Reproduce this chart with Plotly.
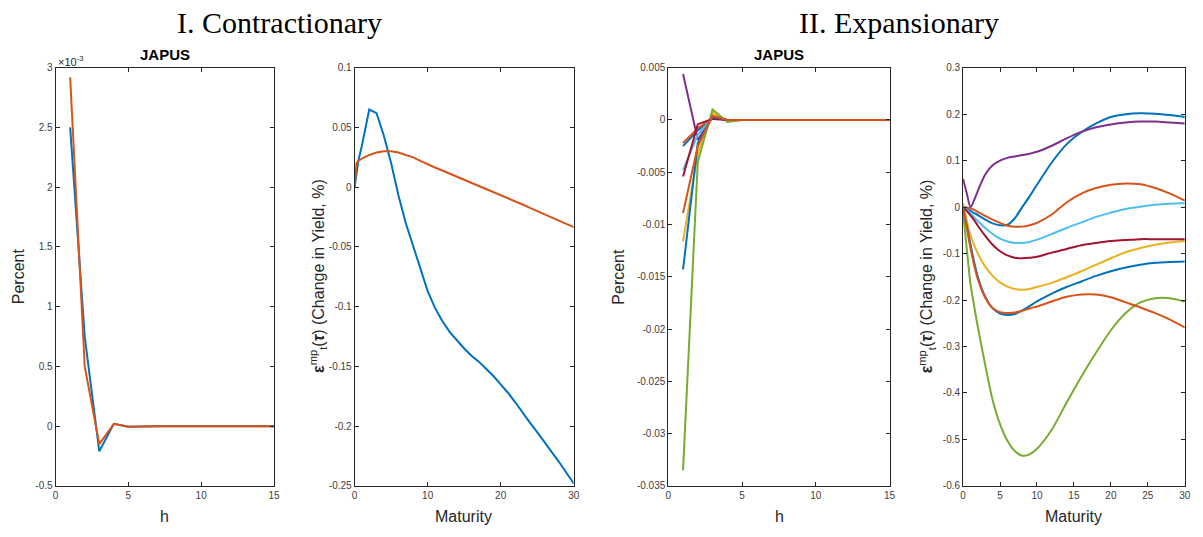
import plotly.graph_objects as go

# ---------------- data ----------------
h = [1, 2, 3, 4, 5, 6, 7, 8, 9, 10, 11, 12, 13, 14, 15]

# Panel I (contractionary) impulse responses
con_irf_blue = [2.50e-3, 0.75e-3, -0.21e-3, 0.02e-3, -0.005e-3, 0, 0, 0, 0, 0, 0, 0, 0, 0, 0]
con_irf_orange = [2.92e-3, 0.50e-3, -0.15e-3, 0.02e-3, -0.005e-3, 0, 0, 0, 0, 0, 0, 0, 0, 0, 0]

# Panel I yield-curve responses
mat_con = [0, 0.25, 0.5, 1, 2, 3, 4, 5, 6, 7, 8, 9, 10, 11, 12, 13, 14, 15, 16, 17, 18, 19, 20,
           21, 22, 23, 24, 25, 26, 27, 28, 29, 30]
con_yc_blue = [0, 0.012, 0.022, 0.035, 0.065, 0.062, 0.043, 0.020, -0.007, -0.030, -0.049, -0.068,
               -0.087, -0.101, -0.112, -0.121, -0.128, -0.135, -0.141, -0.146, -0.152, -0.158, -0.165,
               -0.172, -0.180, -0.189, -0.197, -0.205, -0.213, -0.222, -0.230, -0.239, -0.248]
con_yc_orange = [0, 0.020, 0.022, 0.024, 0.027, 0.029, 0.030, 0.030, 0.029, 0.027, 0.025, 0.022,
                 0.019, 0.0165, 0.014, 0.0113, 0.0087, 0.006, 0.0035, 0.001, -0.0015, -0.004, -0.0065,
                 -0.009, -0.0117, -0.0145, -0.0173, -0.020, -0.023, -0.0257, -0.0283, -0.031, -0.0334]

# Panel II (expansionary) impulse responses, 9 series
exp_irf = [
    [-0.0025, -0.0010, 0.0002, 0.0, 0, 0, 0, 0, 0, 0, 0, 0, 0, 0, 0],
    [-0.0022, -0.0008, 0.0002, 0.0, 0, 0, 0, 0, 0, 0, 0, 0, 0, 0, 0],
    [-0.0116, -0.0032, 0.0007, -0.0001, 0, 0, 0, 0, 0, 0, 0, 0, 0, 0, 0],
    [0.0044, -0.0019, 0.0003, 0.0, 0, 0, 0, 0, 0, 0, 0, 0, 0, 0, 0],
    [-0.0335, -0.0040, 0.0010, -0.0002, 0, 0, 0, 0, 0, 0, 0, 0, 0, 0, 0],
    [-0.0048, -0.0014, 0.0002, 0.0, 0, 0, 0, 0, 0, 0, 0, 0, 0, 0, 0],
    [-0.0054, -0.0004, 0.0001, 0.0, 0, 0, 0, 0, 0, 0, 0, 0, 0, 0, 0],
    [-0.0143, -0.0022, 0.0003, 0.0, 0, 0, 0, 0, 0, 0, 0, 0, 0, 0, 0],
    [-0.0089, -0.0025, 0.0004, 0.0, 0, 0, 0, 0, 0, 0, 0, 0, 0, 0, 0],
]

# Panel II yield-curve responses
mat_exp = [0, 0.5, 1, 1.5, 2, 3, 4, 5, 6, 7, 8, 9, 10, 12, 14, 16, 18, 20, 22, 24, 26, 28, 30]
exp_yc = [
    [0, -0.003, -0.008, -0.013, -0.017, -0.027, -0.035, -0.039, -0.038, -0.024, 0.000, 0.023, 0.048,
     0.096, 0.135, 0.161, 0.180, 0.194, 0.200, 0.202, 0.201, 0.198, 0.194],
    [0, -0.001, -0.003, -0.006, -0.010, -0.019, -0.027, -0.034, -0.040, -0.042, -0.042, -0.039, -0.034,
     -0.016, 0.010, 0.029, 0.041, 0.048, 0.051, 0.049, 0.041, 0.029, 0.014],
    [0.008, -0.030, -0.060, -0.082, -0.100, -0.128, -0.148, -0.162, -0.171, -0.176, -0.178, -0.176,
     -0.172, -0.163, -0.151, -0.138, -0.124, -0.110, -0.097, -0.088, -0.081, -0.076, -0.073],
    [0.061, 0.030, 0.0, 0.015, 0.035, 0.070, 0.090, 0.100, 0.106, 0.109, 0.112, 0.115, 0.119,
     0.132, 0.148, 0.162, 0.172, 0.178, 0.182, 0.184, 0.184, 0.182, 0.180],
    [-0.010, -0.090, -0.165, -0.213, -0.258, -0.340, -0.415, -0.467, -0.503, -0.525, -0.535, -0.532,
     -0.520, -0.479, -0.421, -0.365, -0.313, -0.265, -0.228, -0.205, -0.196, -0.196, -0.2035],
    [0.0, -0.005, -0.013, -0.022, -0.030, -0.045, -0.058, -0.068, -0.074, -0.077, -0.077, -0.075,
     -0.070, -0.058, -0.045, -0.033, -0.021, -0.012, -0.004, 0.001, 0.005, 0.007, 0.009],
    [0.0, -0.008, -0.018, -0.028, -0.040, -0.062, -0.081, -0.095, -0.104, -0.109, -0.110, -0.109,
     -0.107, -0.098, -0.090, -0.082, -0.077, -0.073, -0.071, -0.069, -0.069, -0.069, -0.069],
    [0.0, -0.040, -0.080, -0.118, -0.150, -0.193, -0.218, -0.229, -0.232, -0.230, -0.2225, -0.213,
     -0.203, -0.186, -0.172, -0.160, -0.148, -0.138, -0.130, -0.124, -0.120, -0.118, -0.117],
    [0.0, -0.045, -0.088, -0.125, -0.155, -0.195, -0.217, -0.226, -0.228, -0.227, -0.223, -0.218,
     -0.214, -0.203, -0.193, -0.188, -0.188, -0.194, -0.205, -0.216, -0.228, -0.242, -0.259],
]

colors = ["#0072BD", "#D95319", "#EDB120", "#7E2F8E", "#77AC30", "#4DBEEE", "#A2142F",
          "#0072BD", "#D95319"]

# tick definitions
p1_yticks = [-0.5e-3, 0, 0.5e-3, 1e-3, 1.5e-3, 2e-3, 2.5e-3, 3e-3]
p1_ylabels = ["-0.5", "0", "0.5", "1", "1.5", "2", "2.5", "3"]
p2_yticks = [-0.25, -0.2, -0.15, -0.1, -0.05, 0, 0.05, 0.1]
p2_ylabels = ["-0.25", "-0.2", "-0.15", "-0.1", "-0.05", "0", "0.05", "0.1"]
p3_yticks = [-0.035, -0.03, -0.025, -0.02, -0.015, -0.01, -0.005, 0, 0.005]
p3_ylabels = ["-0.035", "-0.03", "-0.025", "-0.02", "-0.015", "-0.01", "-0.005", "0", "0.005"]
p4_yticks = [-0.6, -0.5, -0.4, -0.3, -0.2, -0.1, 0, 0.1, 0.2, 0.3]
p4_ylabels = ["-0.6", "-0.5", "-0.4", "-0.3", "-0.2", "-0.1", "0", "0.1", "0.2", "0.3"]

# ---------------- figure ----------------
W, H = 1203, 537
def fx(x):
    return x / W
def fy(y):
    return 1 - y / H

fig = go.Figure()
LW = 2

fig.add_trace(go.Scatter(x=h, y=con_irf_blue, mode="lines", line=dict(color=colors[0], width=LW),
                         xaxis="x", yaxis="y", showlegend=False))
fig.add_trace(go.Scatter(x=h, y=con_irf_orange, mode="lines", line=dict(color=colors[1], width=LW),
                         xaxis="x", yaxis="y", showlegend=False))
fig.add_trace(go.Scatter(x=mat_con, y=con_yc_blue, mode="lines", line=dict(color=colors[0], width=LW),
                         xaxis="x2", yaxis="y2", showlegend=False))
fig.add_trace(go.Scatter(x=mat_con, y=con_yc_orange, mode="lines", line=dict(color=colors[1], width=LW),
                         xaxis="x2", yaxis="y2", showlegend=False))
for i, s in enumerate(exp_irf):
    fig.add_trace(go.Scatter(x=h, y=s, mode="lines", line=dict(color=colors[i], width=LW),
                             xaxis="x3", yaxis="y3", showlegend=False))
for i, s in enumerate(exp_yc):
    fig.add_trace(go.Scatter(x=mat_exp, y=s, mode="lines",
                             line=dict(color=colors[i], width=LW, shape="spline", smoothing=0.8),
                             xaxis="x4", yaxis="y4", showlegend=False))

AXC = "#262626"
TF = dict(family="Liberation Sans, Arial, sans-serif", size=10, color="#404040")

def ax(domain, rng, tickvals, ticktext, anchor):
    return dict(domain=domain, range=rng, tickvals=tickvals, ticktext=ticktext, anchor=anchor,
                showline=True, linecolor=AXC, linewidth=1, mirror="ticks", ticks="inside",
                ticklen=4, tickcolor=AXC, tickwidth=1, showgrid=False, zeroline=False,
                tickfont=TF, fixedrange=True)

ydom = [fy(491), fy(64)]
x1d = [fx(53), fx(273)]
x2d = [fx(354.3), fx(575)]
x3d = [fx(670.3), fx(893.3)]
x4d = [fx(967.3), fx(1190.7)]

fig.update_layout(
    autosize=True, margin=dict(l=0, r=0, t=0, b=0),
    paper_bgcolor="white", plot_bgcolor="white", showlegend=False,
    xaxis=ax(x1d, [0, 15], [0, 5, 10, 15], ["0", "5", "10", "15"], "y"),
    yaxis=ax(ydom, [-0.5e-3, 3e-3], p1_yticks, p1_ylabels, "x"),
    xaxis2=ax(x2d, [0, 30], [0, 10, 20, 30], ["0", "10", "20", "30"], "y2"),
    yaxis2=ax(ydom, [-0.25, 0.1], p2_yticks, p2_ylabels, "x2"),
    xaxis3=ax(x3d, [0, 15], [0, 5, 10, 15], ["0", "5", "10", "15"], "y3"),
    yaxis3=ax(ydom, [-0.035, 0.005], p3_yticks, p3_ylabels, "x3"),
    xaxis4=ax(x4d, [0, 30], [0, 5, 10, 15, 20, 25, 30], ["0", "5", "10", "15", "20", "25", "30"], "y4"),
    yaxis4=ax(ydom, [-0.6, 0.3], p4_yticks, p4_ylabels, "x4"),
)

LF = dict(family="Liberation Sans, Arial, sans-serif", size=16, color="#262626")
SERIF = dict(family="Liberation Serif, Times New Roman, serif", size=30, color="black")
BOLD = dict(family="Liberation Sans, Arial, sans-serif", size=15, color="black")

ann = []
def A(x, y, text, font, angle=0, xanchor="center", yanchor="middle"):
    ann.append(dict(x=fx(x), y=fy(y), xref="paper", yref="paper", text=text, showarrow=False,
                    font=font, textangle=angle, xanchor=xanchor, yanchor=yanchor))

A(279, 18, "I. Contractionary", SERIF)
A(903, 18, "II. Expansionary", SERIF)
A(163, 51, "<b>JAPUS</b>", BOLD)
A(782, 51, "<b>JAPUS</b>", BOLD)
A(53, 57, "×10<sup>-3</sup>", dict(family="Liberation Sans, Arial, sans-serif", size=11, color="#262626"),
  xanchor="left")
A(15, 277, "Percent", LF, angle=-90)
A(620, 277, "Percent", LF, angle=-90)
A(163, 522, "h", LF)
A(782, 522, "h", LF)
A(464, 522, "Maturity", LF)
A(1079, 522, "Maturity", LF)
ylab = "<b>ε</b><sup>mp</sup><sub>t</sub>(<b><i>τ</i></b>) (Change in Yield, %)"
A(318, 277, ylab, LF, angle=-90)
A(931, 277, ylab, LF, angle=-90)
fig.update_layout(annotations=ann)

# Fill the browser window exactly (no body margin, no scrollbars, no mode bar).
fig.write_html(
    "out.html",
    default_width="100vw",
    default_height="100vh",
    config={"responsive": True, "displayModeBar": False},
    post_script=("document.documentElement.style.margin='0';document.body.style.margin='0';"
                 "document.documentElement.style.overflow='hidden';document.body.style.overflow='hidden';"
                 "window.dispatchEvent(new Event('resize'));"),
)
